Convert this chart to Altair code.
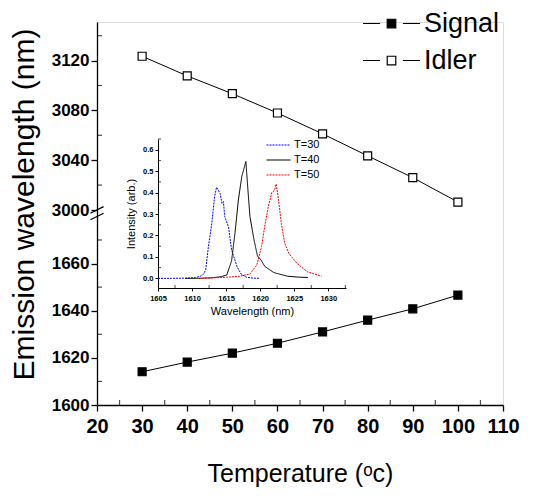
import altair as alt
import pandas as pd

# ---------------- data ----------------
temperature = [30, 40, 50, 60, 70, 80, 90, 100]
signal_nm = [1614.1, 1618.2, 1622.0, 1626.2, 1631.0, 1636.0, 1640.8, 1646.6]
idler_nm = [3123.5, 3107.7, 3093.4, 3077.9, 3061.2, 3043.5, 3026.0, 3006.4]

x_ticks = [20, 30, 40, 50, 60, 70, 80, 90, 100, 110]
x_minor = [25, 35, 45, 55, 65, 75, 85, 95, 105]
y_ticks = [1600, 1620, 1640, 1660, 3000, 3040, 3080, 3120]
y_minor = [1610, 1630, 1650, 1670, 3020, 3060, 3100, 3140]
axis_break = [1680]

wl30 = [1605, 1607, 1609, 1610.5, 1611.2, 1611.7, 1612.0, 1612.4, 1612.9, 1613.3, 1613.6,
        1614.1, 1614.4, 1614.6, 1614.8, 1615.35, 1615.8, 1616.6, 1617.2, 1618, 1619, 1620]
int30 = [0.0, 0.0, 0.001, 0.003, 0.01, 0.02, 0.04, 0.148, 0.257, 0.38, 0.425,
         0.397, 0.35, 0.358, 0.288, 0.24, 0.133, 0.055, 0.02, 0.005, 0.001, 0.0]
wl40 = [1609, 1611, 1613, 1614.3, 1615.1, 1615.8, 1616.3, 1616.8, 1617.3, 1617.9,
        1618.2, 1618.5, 1619.1, 1619.6, 1620.1, 1620.7, 1622, 1624, 1625.5, 1627]
int40 = [0.0, 0.0, 0.003, 0.008, 0.016, 0.081, 0.21, 0.366, 0.475, 0.545,
         0.413, 0.288, 0.179, 0.105, 0.086, 0.055, 0.027, 0.01, 0.006, 0.004]
wl50 = [1611, 1613, 1615, 1617, 1618.5, 1619.5, 1620.2, 1620.7, 1621.2, 1621.7,
        1622.1, 1622.35, 1622.7, 1623.1, 1623.6, 1624.2, 1625.4, 1626.9, 1629]
int50 = [0.0, 0.002, 0.005, 0.01, 0.02, 0.062, 0.148, 0.25, 0.335, 0.40,
         0.41, 0.44, 0.366, 0.257, 0.164, 0.117, 0.07, 0.031, 0.01]

in_x_ticks = [1605, 1610, 1615, 1620, 1625, 1630]
in_x_minor = [1607.5, 1612.5, 1617.5, 1622.5, 1627.5, 1632.5]
in_y_ticks = [0.0, 0.1, 0.2, 0.3, 0.4, 0.5, 0.6]
in_y_minor = [0.05, 0.15, 0.25, 0.35, 0.45, 0.55, 0.65]

series_names = ["Signal", "Idler"]
spec_names = ["T=30", "T=40", "T=50"]

# ---------------- frames ----------------
main_df = pd.DataFrame({
    "temp": temperature * 2,
    "nm": signal_nm + idler_nm,
    "series": ["Signal"] * len(temperature) + ["Idler"] * len(temperature),
})
xminor_df = pd.DataFrame({"temp": x_minor, "nm": [1600] * len(x_minor)})
yminor_df = pd.DataFrame({"temp": [20] * len(y_minor), "nm": y_minor})
break_df = pd.DataFrame({"temp": [20], "nm": axis_break})

spec_df = pd.DataFrame({
    "wl": wl30 + wl40 + wl50,
    "inten": int30 + int40 + int50,
    "series": ["T=30"] * len(wl30) + ["T=40"] * len(wl40) + ["T=50"] * len(wl50),
})
in_xminor_df = pd.DataFrame({"wl": in_x_minor, "inten": [-0.045] * len(in_x_minor)})
in_yminor_df = pd.DataFrame({"wl": [1605] * len(in_y_minor), "inten": in_y_minor})

SANS = "Liberation Sans, Arial"

W, H = 406, 383

# ---------------- main encodings ----------------
x_main = alt.X(
    "temp:Q",
    scale=alt.Scale(domain=[20, 110], nice=False, zero=False),
    axis=alt.Axis(
        values=x_ticks, format="d", title="Temperature (ᵒc)",
        titleFont=SANS, titleFontSize=25, titleFontWeight="normal", titlePadding=25,
        labelFont=SANS, labelFontSize=20, labelFontWeight="bold", labelPadding=5,
        tickSize=6, tickWidth=1.3, domainWidth=1.3, labelColor="black", titleColor="black",
        domainColor="black", tickColor="black", grid=False, labelFlush=False,
    ),
)
y_main = alt.Y(
    "nm:Q",
    scale=alt.Scale(domain=[1600, 1680, 3000, 3151], range=[H, 194.4, 188, 0],
                    nice=False, zero=False),
    axis=alt.Axis(
        values=y_ticks, format="d", title="Emission wavelength (nm)",
        titleFont=SANS, titleFontSize=30, titleFontWeight="normal", titlePadding=12,
        titleY=182,
        labelFont=SANS, labelFontSize=17, labelFontWeight="bold", labelPadding=2,
        tickSize=6, tickWidth=1.3, domainWidth=1.3, labelColor="black", titleColor="black",
        domainColor="black", tickColor="black", grid=False, labelFlush=False,
    ),
)

legend_path = "M-3,0H-1.2M1.2,0H3M-0.45,-0.45H0.45V0.45H-0.45Z"

lines = alt.Chart(main_df).mark_line(color="black", strokeWidth=1).encode(
    x=x_main, y=y_main, detail="series:N"
)
points = alt.Chart(main_df).mark_square(size=64, stroke="black", strokeWidth=1.2, opacity=1).encode(
    x=x_main, y=y_main,
    fill=alt.Fill(
        "series:N",
        scale=alt.Scale(domain=series_names, range=["black", "white"]),
        legend=alt.Legend(
            title=None, orient="none", legendX=281, legendY=-12, padding=0,
            symbolType=legend_path, symbolSize=361, symbolStrokeColor="black",
            symbolStrokeWidth=1.2, labelFont=SANS, labelFontSize=27,
            labelColor="black", labelOffset=19, rowPadding=9,
        ),
    ),
)
xminor = alt.Chart(xminor_df).mark_tick(
    orient="vertical", size=5, thickness=1.2, color="black", yOffset=-2.5
).encode(x=x_main, y=y_main)
yminor = alt.Chart(yminor_df).mark_tick(
    orient="horizontal", size=5, thickness=1.2, color="black", xOffset=2.5
).encode(x=x_main, y=y_main)
brk = alt.Chart(break_df).mark_point(
    shape="M-1,0L1,-1M-1,1L1,0", size=174, stroke="black", strokeWidth=1.2,
    filled=False, yOffset=-3.2, opacity=1
).encode(x=x_main, y=y_main)

main_layer = alt.layer(lines, points, xminor, yminor, brk)

# ---------------- inset encodings ----------------
x_in = alt.X(
    "wl:Q",
    scale=alt.Scale(domain=[1605, 1632.6], range=[61, 249], nice=False, zero=False),
    axis=alt.Axis(
        orient="bottom", offset=-(H - 266), values=in_x_ticks, format="d",
        title="Wavelength (nm)", titleFont=SANS, titleFontSize=11,
        titleFontWeight="normal", titlePadding=4,
        labelFont=SANS, labelFontSize=7.5, labelFontWeight="bold", labelPadding=3,
        tickSize=3, tickWidth=1, domainWidth=1, labelColor="black", titleColor="black",
        domainColor="black", tickColor="black", grid=False, labelFlush=False,
    ),
)
y_in = alt.Y(
    "inten:Q",
    scale=alt.Scale(domain=[-0.045, 0.65], range=[266, 117], nice=False, zero=False),
    axis=alt.Axis(
        orient="left", offset=-61, values=in_y_ticks, format=".1f",
        title="Intensity (arb.)", titleFont=SANS, titleFontSize=11,
        titleFontWeight="normal", titlePadding=6,
        labelFont=SANS, labelFontSize=7.5, labelFontWeight="bold", labelPadding=2,
        tickSize=3, tickWidth=1, domainWidth=1, labelColor="black", titleColor="black",
        domainColor="black", tickColor="black", grid=False, labelFlush=False,
    ),
)

in_legend = alt.Legend(
    title=None, orient="none", legendX=175.5, legendY=117, padding=0,
    symbolType="M-2.4,0H2.4", symbolSize=100, symbolStrokeWidth=1.2,
    labelFont=SANS, labelFontSize=11, labelColor="black", labelOffset=9.5, rowPadding=4,
)
spectra = alt.Chart(spec_df).mark_line(strokeWidth=1).encode(
    x=x_in, y=y_in,
    color=alt.Color("series:N", scale=alt.Scale(domain=spec_names,
                                                range=["#0000ff", "#000000", "#ff0000"]),
                    legend=in_legend),
    strokeDash=alt.StrokeDash("series:N", scale=alt.Scale(domain=spec_names,
                                                          range=[[2, 1], [1, 0], [2, 1]]),
                              legend=in_legend),
)
in_xminor = alt.Chart(in_xminor_df).mark_tick(
    orient="vertical", size=3, thickness=1, color="black", yOffset=-1.5
).encode(x=x_in, y=y_in)
in_yminor = alt.Chart(in_yminor_df).mark_tick(
    orient="horizontal", size=3, thickness=1, color="black", xOffset=1.5
).encode(x=x_in, y=y_in)

inset_layer = alt.layer(spectra, in_xminor, in_yminor)

chart = alt.layer(main_layer, inset_layer).resolve_scale(
    x="independent", y="independent"
).resolve_axis(x="independent", y="independent").properties(
    width=W, height=H,
    autosize=alt.AutoSizeParams(type="none"),
    padding={"left": 89, "top": 14, "right": 24, "bottom": 83},
).configure_view(stroke=None).configure(background="white")

chart.save("out.html", embed_options={"renderer": "svg", "actions": False})
